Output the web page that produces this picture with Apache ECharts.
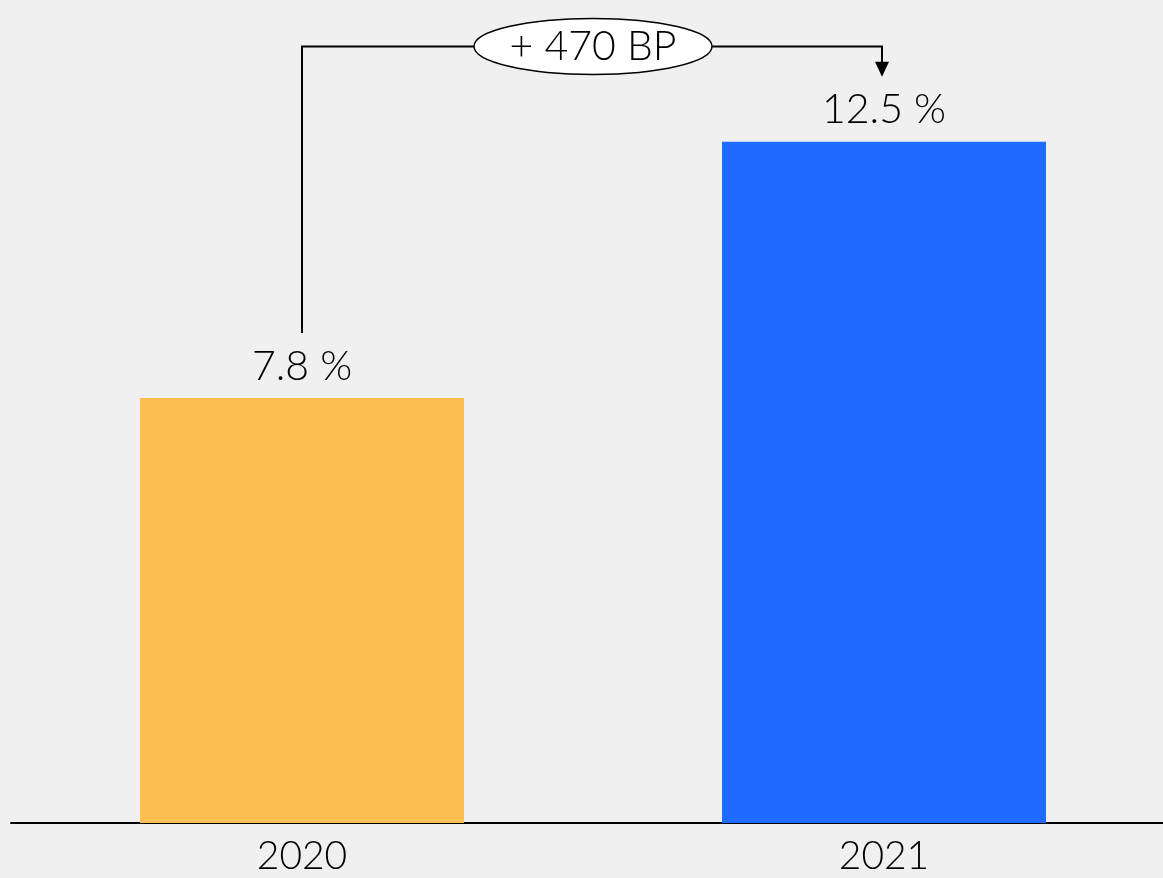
<!DOCTYPE html>
<html>
<head>
<meta charset="utf-8">
<script src="https://cdn.jsdelivr.net/npm/echarts@6/dist/echarts.min.js"></script>
<style>
  html, body { margin: 0; padding: 0; background: #f0f0f0; overflow: hidden; }
  #chart { width: 1175px; height: 878px; }
</style>
</head>
<body>
<div id="chart"></div>
<script>
// Categories and values
const years = ['2020', '2021'];
const shares = [7.8, 12.5];
const barColors = ['#FFBE52', '#1F6BFF'];
const changeLabel = '+ 470 BP';

const FONT = 'Lato, "Open Sans", sans-serif';

const chart = echarts.init(document.getElementById('chart'), null, { renderer: 'canvas' });

chart.setOption({
  backgroundColor: '#f0f0f0',
  animation: false,
  grid: { left: 11, right: 0, top: 5.5, bottom: 55, containLabel: false },
  xAxis: {
    type: 'category',
    data: years,
    axisLine: { show: true, lineStyle: { color: '#000', width: 2 } },
    axisTick: { show: false },
    axisLabel: { color: '#000', fontSize: 39, fontFamily: FONT, fontWeight: 300, margin: 14 }
  },
  yAxis: {
    type: 'value',
    min: 0,
    max: 15,
    show: false,
    splitLine: { show: false }
  },
  series: [{
    type: 'bar',
    barWidth: 324,
    data: shares.map((v, i) => ({ value: v, itemStyle: { color: barColors[i] } })),
    label: {
      show: true,
      position: 'top',
      distance: 11,
      color: '#000',
      fontSize: 41,
      fontFamily: FONT,
      fontWeight: 300,
      formatter: p => p.value + ' %'
    }
  }]
});

// Connector from the first bar's label to the second, with the change badge in between
function drawConnector() {
  const a = chart.convertToPixel({ seriesIndex: 0 }, [0, shares[0]]);
  const b = chart.convertToPixel({ seriesIndex: 0 }, [1, shares[1]]);
  const topY = chart.convertToPixel({ seriesIndex: 0 }, [0, 14.25])[1];
  const startY = a[1] - 65;
  const tipY = b[1] - 65;
  const midX = (a[0] + b[0]) / 2;
  const lineStyle = { stroke: '#000', lineWidth: 2, fill: null };
  chart.setOption({
    graphic: [
      { type: 'polyline', shape: { points: [[a[0], startY], [a[0], topY], [b[0] - 2, topY], [b[0] - 2, tipY - 14]] }, style: lineStyle, z: 10 },
      { type: 'polygon', shape: { points: [[b[0] - 9, tipY - 15], [b[0] + 5, tipY - 15], [b[0] - 2, tipY]] }, style: { fill: '#000' }, z: 10 },
      { type: 'ellipse', shape: { cx: midX, cy: topY, rx: 119, ry: 28 }, style: { fill: '#fff', stroke: '#000', lineWidth: 1.5 }, z: 11 },
      { type: 'text', x: midX, y: topY, style: { text: changeLabel, fill: '#000', fontSize: 41, fontFamily: FONT, fontWeight: 300, align: 'center', verticalAlign: 'middle' }, z: 12 }
    ]
  });
}
drawConnector();
</script>
</body>
</html>
